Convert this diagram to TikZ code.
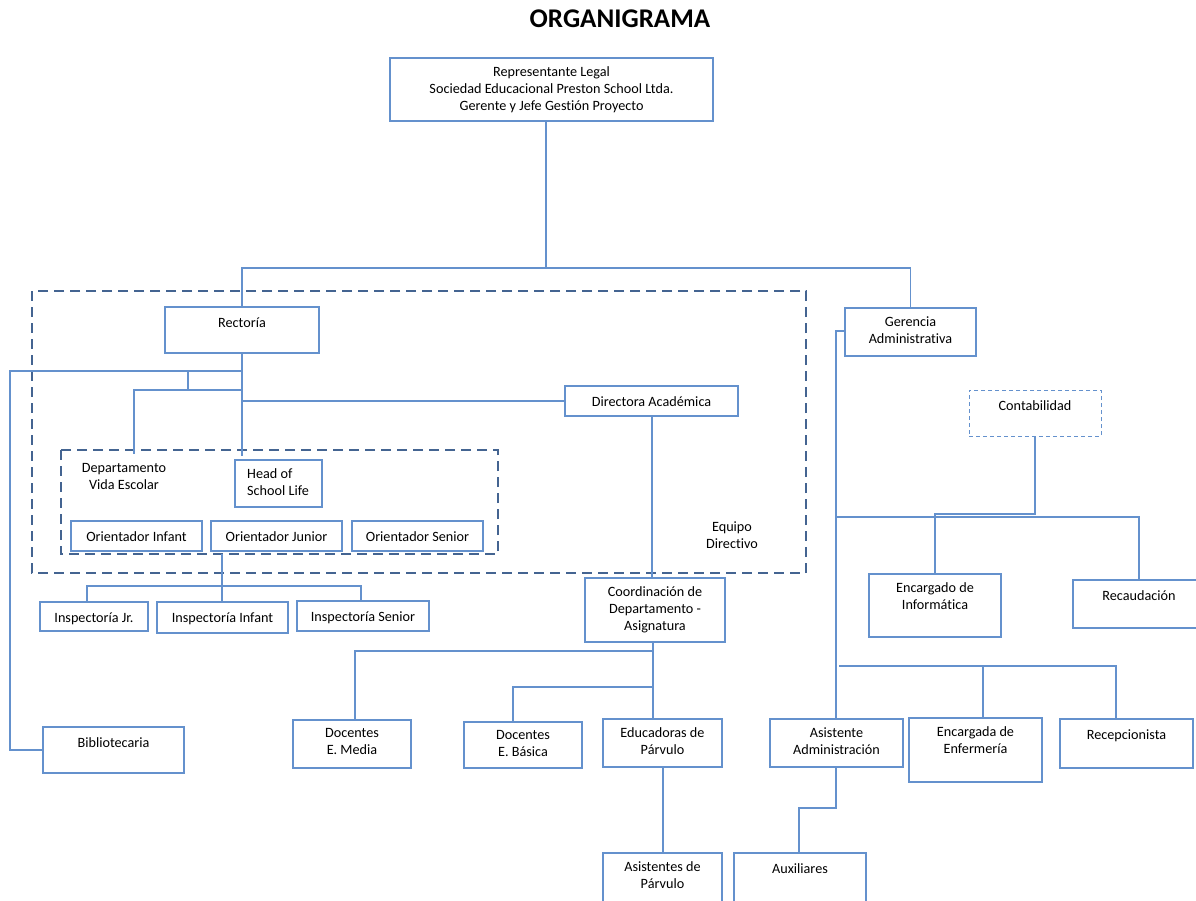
\documentclass[tikz,border=0pt]{standalone}
\usepackage{fontspec}
\setmainfont{Carlito}[Ligatures=NoCommon]
\definecolor{bl}{RGB}{100,145,205}
\definecolor{dk}{RGB}{68,100,145}
\tikzset{
  bx/.style={draw=bl, line width=1.3pt, inner sep=0pt, outer sep=0pt, anchor=north west},
  tx/.style={font=\fontsize{14.2}{17}\selectfont, align=center, inner sep=0pt, anchor=north, execute at begin node=\strut},
  ln/.style={draw=bl, line width=1.3pt},
  grp/.style={draw=dk, line width=2.2pt, dash pattern=on 10pt off 6pt},
}
\newcommand\obox[6]{%
  \node[bx, minimum width={#4-#2}, minimum height={#5-#3}] (#1) at (#2,#3) {};
  \node[tx] (#1-t) at ([yshift=-8.6pt]#1.north) {#6};}
\begin{document}
\begin{tikzpicture}[x=1pt,y=-1pt]
\useasboundingbox (0,0) rectangle (1196,900);
\fill[white] (0,0) rectangle (1196,900);
\node[font=\fontsize{27}{30}\selectfont\bfseries, inner sep=0pt] (title) at (620,18.5) {ORGANIGRAMA};
% group frames
\draw[grp] (32,291) rectangle (806,573);
\draw[grp] (61,450) rectangle (498,554);
% boxes
\obox{rep}{390}{58}{713}{121}{Representante Legal\\Sociedad Educacional Preston School Ltda.\\Gerente y Jefe Gestión Proyecto}
\obox{rect}{165}{307}{319}{353}{Rectoría}
\obox{ger}{845}{308}{976}{356}{Gerencia\\Administrativa}
\obox{dir}{565}{386}{738}{416}{Directora Académica}
\node[bx, minimum width=87, minimum height=47] (hsl) at (235,460) {};
\node[tx, anchor=north west, align=left] (hsl-t) at ([xshift=12pt,yshift=-8.6pt]hsl.north west) {Head of\\School Life};
\node[tx] (dve) at (124,463) {Departamento\\Vida Escolar};
\node[tx] (eqd) at (732,521.5) {Equipo\\Directivo};
\obox{oi}{71}{521}{202}{551}{Orientador Infant}
\obox{oj}{211}{521}{342}{551}{Orientador Junior}
\obox{os}{352}{521}{483}{551}{Orientador Senior}
\obox{insJ}{40}{602}{148}{631}{Inspectoría Jr.}
\obox{insI}{157}{602}{288}{633}{Inspectoría Infant}
\obox{insS}{297}{601}{429}{631}{Inspectoría Senior}
\obox{coord}{585}{578}{725}{642}{Coordinación de\\Departamento -\\Asignatura}
\obox{bib}{43}{727}{184}{773}{Bibliotecaria}
\obox{dm}{293}{720}{411}{768}{Docentes\\E. Media}
\obox{db}{464}{722}{582}{768}{Docentes\\E. Básica}
\obox{educ}{603}{719}{722}{767}{Educadoras de\\Párvulo}
\obox{asp}{603}{853}{722}{910}{Asistentes de\\Párvulo}
\node[bx, line width=1pt, dash pattern=on 4pt off 3pt, minimum width=132, minimum height=46] (cont) at (969,390) {};
\node[tx] (cont-t) at ([yshift=-8.6pt]cont.north) {Contabilidad};
\obox{inf}{869}{574}{1001}{637}{Encargado de\\Informática}
\obox{rec}{1073}{580}{1205}{628}{Recaudación}
\obox{aa}{770}{719}{903}{767}{Asistente\\Administración}
\obox{enf}{909}{718}{1042}{782}{Encargada de\\Enfermería}
\obox{recep}{1060}{719}{1193}{768}{Recepcionista}
\obox{aux}{734}{853}{866}{910}{Auxiliares}
% connectors
\coordinate (jA) at (546,268);
\draw[ln] (rep.south -| jA) -- (jA);
\draw[ln] (rect.north) |- (jA) -| (ger.north);
\coordinate (hslin) at (243,456);
\draw[ln] (rect.south) -- (rect.south |- hslin);
\draw[ln] (rect.south |- 0,371) -- (10,371) |- (bib.west);
\coordinate (stub) at (188,371);
\draw[ln] (stub) -- (188,390);
\coordinate (dvein) at (134,454);
\draw[ln] (rect.south |- 0,390) -| (dvein);
\draw[ln] (rect.south |- dir.west) -- (dir.west);
\coordinate (dirout) at (652,416);
\draw[ln] (dirout) -- (dirout |- coord.north);
\coordinate (ij) at (222,554);
\draw[ln] (ij) -- (ij |- insI.north);
\draw[ln] (insJ.north -| 87,0) |- (ij |- 0,586);
\draw[ln] (insS.north -| 361,0) |- (ij |- 0,586);
\draw[ln] (coord.south -| 653,0) -- (educ.north -| 653,0);
\draw[ln] (653,651) -| (dm.north -| 355,0);
\draw[ln] (653,687) -| (db.north -| 513,0);
\coordinate (edout) at (663,767);
\draw[ln] (edout) -- (edout |- asp.north);
\draw[ln] (ger.west |- 0,331) -- (836,331) -- (aa.north -| 836,0);
\draw[ln] (836,517) -| (rec.north -| 1139,0);
\draw[ln] (cont.south) |- (935,514) -- (inf.north -| 935,0);
\draw[ln] (839,666) -| (recep.north -| 1116,0);
\draw[ln] (983,666) -- (enf.north -| 983,0);
\draw[ln] (aa.south -| 836,0) -- (836,808) -| (aux.north -| 799,0);
\end{tikzpicture}
\end{document}
